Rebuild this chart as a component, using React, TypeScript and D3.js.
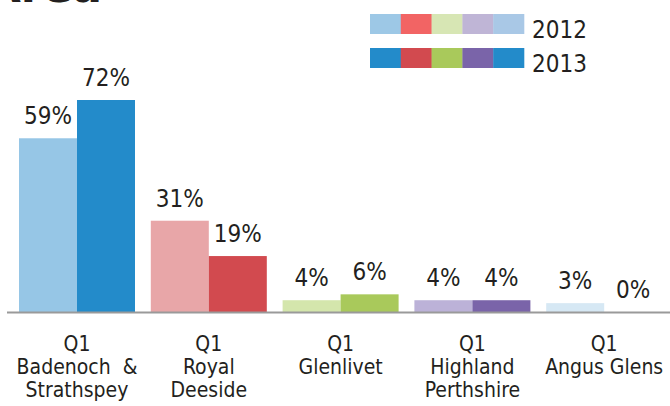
import React from "react";
import * as d3 from "d3";

const categories = ["Badenoch & Strathspey", "Royal Deeside", "Glenlivet", "Highland Perthshire", "Angus Glens"];
const labelLines = [
  ["Q1", "Badenoch  &", "Strathspey"],
  ["Q1", "Royal", "Deeside"],
  ["Q1", "Glenlivet"],
  ["Q1", "Highland", "Perthshire"],
  ["Q1", "Angus Glens"],
];
const series = ["2012", "2013"];
const values2012 = [59, 31, 4, 4, 3];
const values2013 = [72, 19, 6, 4, 0];
const colors2012 = ["#96c6e6", "#e8a6a8", "#d4e6ac", "#bcb2d8", "#d6e8f4"];
const colors2013 = ["#238bca", "#d24a4f", "#a9c95b", "#7a64a9", "#238bca"];
const legend2012 = ["#9dc8e6", "#f26464", "#d7e6b4", "#bfb5d6", "#a9c8e6"];
const legend2013 = ["#238bca", "#d24a4f", "#a9c95b", "#7a64a9", "#238bca"];

const W = 670;
const H = 406;
const baseY = 312;
const textColor = "#231f20";
const condFont = "'DejaVu Sans Condensed', 'DejaVu Sans', sans-serif";
const valueFont = "'Liberation Sans Narrow', 'DejaVu Sans Condensed', sans-serif";

export default function App() {
  const x0 = d3.scaleBand<string>().domain(categories).range([11, 670]).padding(0);
  const x1 = d3.scaleBand<string>().domain(series).range([8, 124]).padding(0);
  const y = d3.scaleLinear().domain([0, 72]).range([baseY, 100]);
  const vals = [values2012, values2013];
  const cols = [colors2012, colors2013];
  const legendX = d3.scaleBand<number>().domain(d3.range(5)).range([370, 524]);

  return (
    <svg width={W} height={H} style={{ position: "absolute", left: 0, top: 0 }}>
      <rect width={W} height={H} fill="#fff" />
      <text x={102} y={2} textAnchor="end" fontSize={44} fontWeight="bold" fill={textColor}
        fontFamily="'DejaVu Sans', sans-serif">Area</text>

      {[legend2012, legend2013].map((lc, si) => (
        <g key={si}>
          {lc.map((c, i) => (
            <rect key={i} x={legendX(i)} y={si === 0 ? 14 : 48} width={legendX.bandwidth() + 0.3} height={20} fill={c} />
          ))}
          <text x={532} y={si === 0 ? 38 : 72} fontSize={24} fill={textColor}
            fontFamily={condFont} style={{ fontStretch: "condensed" }}>{series[si]}</text>
        </g>
      ))}

      {categories.map((cat, ci) => (
        <g key={cat} transform={`translate(${x0(cat)},0)`}>
          {series.map((s, si) => {
            const v = vals[si][ci];
            const bx = x1(s)!;
            const bw = x1.bandwidth();
            return (
              <g key={s}>
                {v > 0 && (
                  <rect x={bx} y={y(v)} width={bw} height={baseY - y(v)} fill={cols[si][ci]} />
                )}
                <text x={bx + bw / 2} y={y(v) - 14} textAnchor="middle" fontSize={24} fill={textColor}
                  fontFamily={valueFont}>{v}%</text>
              </g>
            );
          })}
        </g>
      ))}

      <line x1={7} x2={670} y1={baseY + 0.5} y2={baseY + 0.5} stroke="#9a9a9a" strokeWidth={2} />

      {categories.map((cat, ci) => (
        <text key={cat} textAnchor="middle" fontSize={21} fill={textColor}
          fontFamily={condFont} style={{ fontStretch: "condensed" }}>
          {labelLines[ci].map((ln, li) => (
            <tspan key={li} x={x0(cat)! + 66} y={351 + li * 23} xmlSpace="preserve">{ln}</tspan>
          ))}
        </text>
      ))}
    </svg>
  );
}
